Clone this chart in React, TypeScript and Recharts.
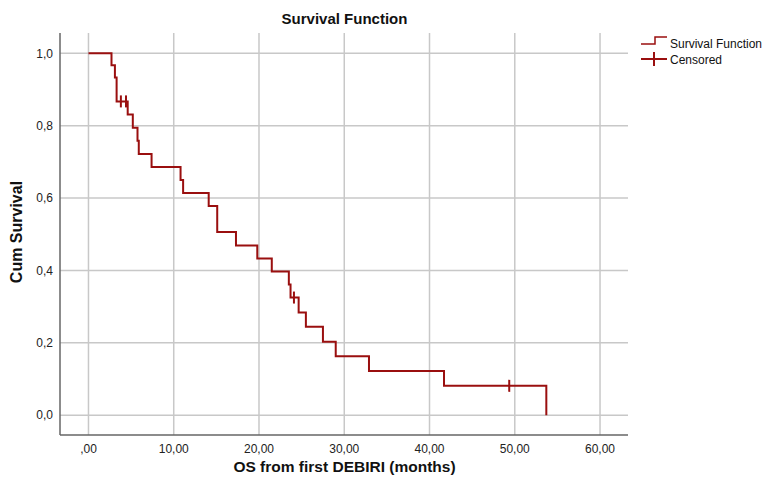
import React from 'react';
import { ComposedChart, Line, Scatter, XAxis, YAxis, CartesianGrid } from 'recharts';

// Kaplan-Meier steps (months, cumulative survival)
const stepTimes = [0, 2.7, 3.1, 3.3, 4.6, 5.2, 5.75, 5.9, 7.4, 10.8, 11.1, 14.1, 15.1, 17.3, 19.8, 21.5, 23.5, 23.7, 24.65, 25.5, 27.5, 29.0, 32.9, 41.7, 53.7];
const stepSurvival = [1, 0.967, 0.933, 0.867, 0.831, 0.794, 0.758, 0.722, 0.686, 0.65, 0.614, 0.578, 0.506, 0.469, 0.433, 0.397, 0.361, 0.325, 0.284, 0.244, 0.203, 0.163, 0.122, 0.081, 0];

// censored observations
const censorTimes = [3.8, 4.4, 24.1, 49.35];
const censorSurvival = [0.867, 0.867, 0.325, 0.081];

const xTicks = [0, 10, 20, 30, 40, 50, 60];
const yTicks = [0, 0.2, 0.4, 0.6, 0.8, 1.0];

const lineColor = '#9a0f0f';
const font = '"Liberation Sans", Arial, sans-serif';

const stepData = stepTimes.map((t, i) => ({ t, s: stepSurvival[i] }));
const censorData = censorTimes.map((t, i) => ({ t, c: censorSurvival[i] }));

const fmtX = (v: number) => (v === 0 ? ',00' : v.toFixed(2).replace('.', ','));
const fmtY = (v: number) => v.toFixed(1).replace('.', ',');

const CensorMark = (props: any) => {
    const { cx, cy } = props;
    return <line x1={cx} y1={cy - 6} x2={cx} y2={cy + 6} stroke={lineColor} strokeWidth={2} />;
};

const App: React.FC = () => {
    return (
        <div style={{ position: 'absolute', left: 0, top: 0, width: 767, height: 483, background: '#fff', fontFamily: font }}>
            <ComposedChart
                width={767}
                height={483}
                data={stepData}
                margin={{ top: 33, right: 139, left: 0, bottom: 0 }}
            >
                <CartesianGrid stroke="#c8c8c8" strokeWidth={1.5} horizontalValues={yTicks} verticalValues={xTicks} />
                <XAxis
                    dataKey="t"
                    type="number"
                    domain={[-3.34, 63.28]}
                    ticks={xTicks}
                    tickFormatter={fmtX}
                    allowDataOverflow
                    height={48}
                    tickLine={false}
                    axisLine={{ stroke: '#666', strokeWidth: 1.5 }}
                    tick={{ fill: '#222', fontSize: 12, fontFamily: font }}
                    tickMargin={3}
                />
                <YAxis
                    type="number"
                    domain={[-0.0548, 1.056]}
                    ticks={yTicks}
                    tickFormatter={fmtY}
                    allowDataOverflow
                    width={60}
                    tickLine={false}
                    axisLine={{ stroke: '#666', strokeWidth: 1.5 }}
                    tick={{ fill: '#222', fontSize: 12, fontFamily: font }}
                    tickMargin={1}
                />
                <Line
                    dataKey="s"
                    type="stepAfter"
                    stroke={lineColor}
                    strokeWidth={2}
                    dot={false}
                    activeDot={false}
                    isAnimationActive={false}
                />
                <Scatter data={censorData} dataKey="c" shape={<CensorMark />} isAnimationActive={false} />
            </ComposedChart>

            <div style={{ position: 'absolute', left: 0, width: 689, top: 10, textAlign: 'center', fontWeight: 'bold', fontSize: 15, color: '#111' }}>
                Survival Function
            </div>
            <div style={{ position: 'absolute', left: 0, width: 689, top: 458, textAlign: 'center', fontWeight: 'bold', fontSize: 15.5, color: '#111' }}>
                OS from first DEBIRI (months)
            </div>
            <div
                style={{
                    position: 'absolute', left: 17, top: 233, width: 200, marginLeft: -100, marginTop: -10,
                    textAlign: 'center', fontWeight: 'bold', fontSize: 16, color: '#111', transform: 'rotate(-90deg)'
                }}
            >
                Cum Survival
            </div>

            <svg style={{ position: 'absolute', left: 639, top: 34 }} width={128} height={36}>
                <path d="M2,10 H16 V3 H28" fill="none" stroke={lineColor} strokeWidth={1.5} />
                <line x1={2} y1={25} x2={28} y2={25} stroke={lineColor} strokeWidth={2} />
                <line x1={15} y1={18} x2={15} y2={32} stroke={lineColor} strokeWidth={2} />
                <text x={31} y={14} fontSize={12} fill="#111" fontFamily={font}>Survival Function</text>
                <text x={31} y={30} fontSize={12} fill="#111" fontFamily={font}>Censored</text>
            </svg>
        </div>
    );
};

export default App;
